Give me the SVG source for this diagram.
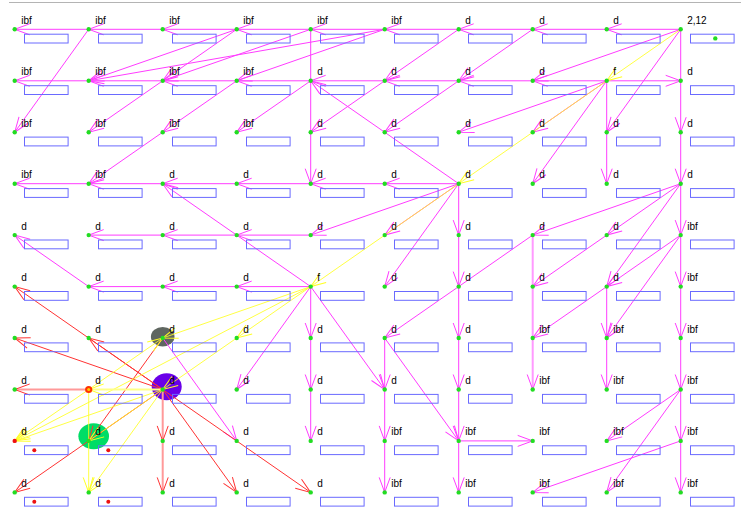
<svg xmlns="http://www.w3.org/2000/svg" width="741" height="527" viewBox="0 0 741 527">
<style>
.bx{fill:none;stroke:#6a6aff;stroke-width:1}
.dt{fill:#22dd22}
.lb{font-family:"Liberation Sans",Arial,sans-serif;font-size:10px;fill:#000}
.m{stroke:#ff3cff;stroke-width:1;fill:none;marker-end:url(#hm)}
.r{stroke:#ff3333;stroke-width:1;fill:none;marker-end:url(#hr)}
.y{stroke:#ffff22;stroke-width:1;fill:none;marker-end:url(#hy);stroke-opacity:0.85}
.mw{stroke:#ff99ff;stroke-width:2;fill:none;marker-end:url(#hm)}
.rw{stroke:#ff9999;stroke-width:2;fill:none;marker-end:url(#hr)}
.yw{stroke:#ffff88;stroke-width:2;fill:none;marker-end:url(#hy)}
</style>
<defs>
<marker id="hm" markerUnits="userSpaceOnUse" orient="auto" viewBox="-20 -10 24 20" markerWidth="24" markerHeight="20" refX="0" refY="0"><path d="M-15,-5.5L0,0L-15,5.5" fill="none" stroke="#ff3cff" stroke-width="1"/></marker>
<marker id="hr" markerUnits="userSpaceOnUse" orient="auto" viewBox="-20 -10 24 20" markerWidth="24" markerHeight="20" refX="0" refY="0"><path d="M-15,-5.5L0,0L-15,5.5" fill="none" stroke="#ff3333" stroke-width="1"/></marker>
<marker id="hy" markerUnits="userSpaceOnUse" orient="auto" viewBox="-20 -10 24 20" markerWidth="24" markerHeight="20" refX="0" refY="0"><path d="M-15,-5.5L0,0L-15,5.5" fill="none" stroke="#ffff22" stroke-width="1"/></marker>
</defs>
<rect width="741" height="527" fill="#fff"/>
<line x1="9" y1="2.5" x2="741" y2="2.5" stroke="#b4b4b4"/>
<g id="highlights">
<ellipse cx="162.7" cy="336.7" rx="11.8" ry="9.7" fill="#5f6660"/>
<ellipse cx="166.7" cy="386.7" rx="15" ry="13.5" fill="#6a00e8"/>
<ellipse cx="93.7" cy="436.3" rx="15.3" ry="13" fill="#00dd66"/>
</g>
<g id="connectors">
<line class="m" x1="680.7" y1="29.3" x2="606.7" y2="29.3"/>
<line class="m" x1="606.7" y1="29.3" x2="532.7" y2="29.3"/>
<line class="m" x1="532.7" y1="29.3" x2="458.7" y2="29.3"/>
<line class="m" x1="458.7" y1="29.3" x2="384.7" y2="29.3"/>
<line class="m" x1="384.7" y1="29.3" x2="310.7" y2="29.3"/>
<line class="m" x1="310.7" y1="29.3" x2="236.7" y2="29.3"/>
<line class="m" x1="236.7" y1="29.3" x2="162.7" y2="29.3"/>
<line class="m" x1="162.7" y1="29.3" x2="88.7" y2="29.3"/>
<line class="m" x1="88.7" y1="29.3" x2="14.7" y2="29.3"/>
<line class="m" x1="606.7" y1="80.8" x2="532.7" y2="80.8"/>
<line class="m" x1="532.7" y1="80.8" x2="458.7" y2="80.8"/>
<line class="m" x1="458.7" y1="80.8" x2="384.7" y2="80.8"/>
<line class="m" x1="384.7" y1="80.8" x2="310.7" y2="80.8"/>
<line class="m" x1="310.7" y1="80.8" x2="236.7" y2="80.8"/>
<line class="m" x1="236.7" y1="80.8" x2="162.7" y2="80.8"/>
<line class="m" x1="162.7" y1="80.8" x2="88.7" y2="80.8"/>
<line class="m" x1="88.7" y1="80.8" x2="14.7" y2="80.8"/>
<line class="m" x1="606.7" y1="80.8" x2="680.7" y2="80.8"/>
<line class="m" x1="458.7" y1="183.7" x2="384.7" y2="183.7"/>
<line class="m" x1="384.7" y1="183.7" x2="310.7" y2="183.7"/>
<line class="m" x1="310.7" y1="183.7" x2="236.7" y2="183.7"/>
<line class="m" x1="236.7" y1="183.7" x2="162.7" y2="183.7"/>
<line class="m" x1="162.7" y1="183.7" x2="88.7" y2="183.7"/>
<line class="m" x1="88.7" y1="183.7" x2="14.7" y2="183.7"/>
<line class="m" x1="310.7" y1="235.1" x2="236.7" y2="235.1"/>
<line class="m" x1="236.7" y1="235.1" x2="162.7" y2="235.1"/>
<line class="m" x1="162.7" y1="235.1" x2="88.7" y2="235.1"/>
<line class="m" x1="310.7" y1="286.6" x2="236.7" y2="286.6"/>
<line class="m" x1="236.7" y1="286.6" x2="162.7" y2="286.6"/>
<line class="m" x1="162.7" y1="286.6" x2="88.7" y2="286.6"/>
<line class="m" x1="458.7" y1="440.9" x2="532.7" y2="440.9"/>
<line class="m" x1="310.7" y1="29.3" x2="310.7" y2="183.7"/>
<line class="m" x1="310.7" y1="286.6" x2="310.7" y2="338"/>
<line class="m" x1="310.7" y1="338" x2="310.7" y2="389.5"/>
<line class="m" x1="310.7" y1="389.5" x2="310.7" y2="440.9"/>
<line class="m" x1="384.7" y1="338" x2="384.7" y2="389.5"/>
<line class="m" x1="384.7" y1="389.5" x2="384.7" y2="440.9"/>
<line class="m" x1="384.7" y1="440.9" x2="384.7" y2="492.4"/>
<line class="m" x1="458.7" y1="183.7" x2="458.7" y2="235.1"/>
<line class="m" x1="458.7" y1="235.1" x2="458.7" y2="286.6"/>
<line class="m" x1="458.7" y1="286.6" x2="458.7" y2="338"/>
<line class="m" x1="458.7" y1="338" x2="458.7" y2="389.5"/>
<line class="m" x1="458.7" y1="389.5" x2="458.7" y2="440.9"/>
<line class="m" x1="458.7" y1="440.9" x2="458.7" y2="492.4"/>
<line class="mw" x1="532.7" y1="235.1" x2="532.7" y2="389.5"/>
<line class="m" x1="606.7" y1="80.8" x2="606.7" y2="183.7"/>
<line class="m" x1="606.7" y1="286.6" x2="606.7" y2="338"/>
<line class="m" x1="606.7" y1="338" x2="606.7" y2="389.5"/>
<line class="m" x1="680.7" y1="29.3" x2="680.7" y2="132.2"/>
<line class="m" x1="680.7" y1="132.2" x2="680.7" y2="183.7"/>
<line class="m" x1="680.7" y1="183.7" x2="680.7" y2="235.1"/>
<line class="m" x1="680.7" y1="235.1" x2="680.7" y2="286.6"/>
<line class="m" x1="680.7" y1="286.6" x2="680.7" y2="338"/>
<line class="m" x1="680.7" y1="338" x2="680.7" y2="389.5"/>
<line class="m" x1="680.7" y1="389.5" x2="680.7" y2="440.9"/>
<line class="m" x1="680.7" y1="440.9" x2="680.7" y2="492.4"/>
<line class="m" x1="88.7" y1="29.3" x2="14.7" y2="132.2"/>
<line class="m" x1="236.7" y1="29.3" x2="88.7" y2="80.8"/>
<line class="m" x1="236.7" y1="29.3" x2="162.7" y2="80.8"/>
<line class="m" x1="310.7" y1="29.3" x2="162.7" y2="80.8"/>
<line class="m" x1="384.7" y1="29.3" x2="88.7" y2="80.8"/>
<line class="m" x1="384.7" y1="29.3" x2="236.7" y2="80.8"/>
<line class="m" x1="458.7" y1="29.3" x2="384.7" y2="80.8"/>
<line class="m" x1="532.7" y1="29.3" x2="458.7" y2="80.8"/>
<line class="m" x1="680.7" y1="29.3" x2="532.7" y2="80.8"/>
<line class="m" x1="680.7" y1="29.3" x2="606.7" y2="132.2"/>
<line class="m" x1="162.7" y1="80.8" x2="88.7" y2="132.2"/>
<line class="m" x1="236.7" y1="80.8" x2="162.7" y2="132.2"/>
<line class="m" x1="310.7" y1="80.8" x2="236.7" y2="132.2"/>
<line class="m" x1="384.7" y1="80.8" x2="310.7" y2="132.2"/>
<line class="m" x1="458.7" y1="80.8" x2="384.7" y2="132.2"/>
<line class="m" x1="606.7" y1="80.8" x2="458.7" y2="132.2"/>
<line class="m" x1="606.7" y1="80.8" x2="532.7" y2="132.2"/>
<line class="m" x1="606.7" y1="80.8" x2="532.7" y2="183.7"/>
<line class="m" x1="458.7" y1="183.7" x2="310.7" y2="80.8"/>
<line class="m" x1="162.7" y1="132.2" x2="88.7" y2="183.7"/>
<line class="m" x1="310.7" y1="286.6" x2="162.7" y2="183.7"/>
<line class="m" x1="458.7" y1="183.7" x2="310.7" y2="235.1"/>
<line class="m" x1="458.7" y1="183.7" x2="384.7" y2="235.1"/>
<line class="m" x1="458.7" y1="183.7" x2="384.7" y2="286.6"/>
<line class="m" x1="680.7" y1="183.7" x2="532.7" y2="235.1"/>
<line class="m" x1="680.7" y1="183.7" x2="606.7" y2="235.1"/>
<line class="m" x1="680.7" y1="183.7" x2="606.7" y2="286.6"/>
<line class="m" x1="606.7" y1="235.1" x2="532.7" y2="286.6"/>
<line class="m" x1="680.7" y1="235.1" x2="606.7" y2="286.6"/>
<line class="m" x1="680.7" y1="235.1" x2="606.7" y2="338"/>
<line class="m" x1="606.7" y1="286.6" x2="532.7" y2="338"/>
<line class="m" x1="532.7" y1="235.1" x2="384.7" y2="338"/>
<line class="m" x1="384.7" y1="338" x2="458.7" y2="440.9"/>
<line class="m" x1="310.7" y1="286.6" x2="236.7" y2="389.5"/>
<line class="m" x1="310.7" y1="286.6" x2="384.7" y2="389.5"/>
<line class="m" x1="88.7" y1="286.6" x2="14.7" y2="235.1"/>
<line class="m" x1="162.7" y1="338" x2="236.7" y2="440.9"/>
<line class="m" x1="680.7" y1="440.9" x2="532.7" y2="492.4"/>
<line class="m" x1="680.7" y1="389.5" x2="606.7" y2="440.9"/>
<line class="m" x1="680.7" y1="389.5" x2="606.7" y2="492.4"/>
<line class="r" x1="162.7" y1="389.5" x2="14.7" y2="286.6"/>
<line class="r" x1="162.7" y1="389.5" x2="14.7" y2="338"/>
<line class="r" x1="162.7" y1="389.5" x2="88.7" y2="338"/>
<line class="rw" x1="88.7" y1="389.5" x2="14.7" y2="389.5"/>
<line class="rw" x1="162.7" y1="389.5" x2="162.7" y2="440.9"/>
<line class="rw" x1="162.7" y1="440.9" x2="162.7" y2="492.4"/>
<line class="r" x1="162.7" y1="389.5" x2="236.7" y2="492.4"/>
<line class="r" x1="162.7" y1="389.5" x2="310.7" y2="492.4"/>
<line class="r" x1="162.7" y1="389.5" x2="14.7" y2="492.4"/>
<line class="r" x1="162.7" y1="338" x2="88.7" y2="440.9"/>
<line class="y" x1="680.7" y1="29.3" x2="606.7" y2="80.8"/>
<line class="y" x1="606.7" y1="80.8" x2="458.7" y2="183.7"/>
<line class="y" x1="458.7" y1="183.7" x2="310.7" y2="286.6"/>
<line class="y" x1="310.7" y1="286.6" x2="162.7" y2="338"/>
<line class="y" x1="310.7" y1="286.6" x2="236.7" y2="338"/>
<line class="y" x1="236.7" y1="338" x2="162.7" y2="389.5"/>
<line class="y" x1="310.7" y1="286.6" x2="14.7" y2="440.9"/>
<line class="y" x1="88.7" y1="389.5" x2="162.7" y2="338"/>
<line class="yw" x1="162.7" y1="389.5" x2="88.7" y2="389.5"/>
<line class="y" x1="162.7" y1="389.5" x2="14.7" y2="440.9"/>
<line class="y" x1="162.7" y1="389.5" x2="88.7" y2="440.9"/>
<line class="y" x1="162.7" y1="389.5" x2="88.7" y2="492.4"/>
<line class="y" x1="88.7" y1="389.5" x2="88.7" y2="492.4"/>
<line class="y" x1="88.7" y1="389.5" x2="14.7" y2="440.9"/>
</g>
<g id="n0-0"><rect class="bx" x="24.5" y="34.2" width="43.6" height="8.8"/><circle class="dt" cx="14.7" cy="29.3" r="2.2"/><text class="lb" x="21.2" y="23.8">ibf</text></g>
<g id="n0-1"><rect class="bx" x="98.5" y="34.2" width="43.6" height="8.8"/><circle class="dt" cx="88.7" cy="29.3" r="2.2"/><text class="lb" x="95.2" y="23.8">ibf</text></g>
<g id="n0-2"><rect class="bx" x="172.5" y="34.2" width="43.6" height="8.8"/><circle class="dt" cx="162.7" cy="29.3" r="2.2"/><text class="lb" x="169.2" y="23.8">ibf</text></g>
<g id="n0-3"><rect class="bx" x="246.5" y="34.2" width="43.6" height="8.8"/><circle class="dt" cx="236.7" cy="29.3" r="2.2"/><text class="lb" x="243.2" y="23.8">ibf</text></g>
<g id="n0-4"><rect class="bx" x="320.5" y="34.2" width="43.6" height="8.8"/><circle class="dt" cx="310.7" cy="29.3" r="2.2"/><text class="lb" x="317.2" y="23.8">ibf</text></g>
<g id="n0-5"><rect class="bx" x="394.5" y="34.2" width="43.6" height="8.8"/><circle class="dt" cx="384.7" cy="29.3" r="2.2"/><text class="lb" x="391.2" y="23.8">ibf</text></g>
<g id="n0-6"><rect class="bx" x="468.5" y="34.2" width="43.6" height="8.8"/><circle class="dt" cx="458.7" cy="29.3" r="2.2"/><text class="lb" x="465.2" y="23.8">d</text></g>
<g id="n0-7"><rect class="bx" x="542.5" y="34.2" width="43.6" height="8.8"/><circle class="dt" cx="532.7" cy="29.3" r="2.2"/><text class="lb" x="539.2" y="23.8">d</text></g>
<g id="n0-8"><rect class="bx" x="616.5" y="34.2" width="43.6" height="8.8"/><circle class="dt" cx="606.7" cy="29.3" r="2.2"/><text class="lb" x="613.2" y="23.8">d</text></g>
<g id="n0-9"><rect class="bx" x="690.5" y="34.2" width="43.6" height="8.8"/><circle class="dt" cx="680.7" cy="29.3" r="2.2"/><circle class="dt" cx="715.3" cy="38.4" r="2.2"/><text class="lb" x="687.2" y="23.8">2,12</text></g>
<g id="n1-0"><rect class="bx" x="24.5" y="85.7" width="43.6" height="8.8"/><circle class="dt" cx="14.7" cy="80.8" r="2.2"/><text class="lb" x="21.2" y="75.3">ibf</text></g>
<g id="n1-1"><rect class="bx" x="98.5" y="85.7" width="43.6" height="8.8"/><circle class="dt" cx="88.7" cy="80.8" r="2.2"/><text class="lb" x="95.2" y="75.3">ibf</text></g>
<g id="n1-2"><rect class="bx" x="172.5" y="85.7" width="43.6" height="8.8"/><circle class="dt" cx="162.7" cy="80.8" r="2.2"/><text class="lb" x="169.2" y="75.3">ibf</text></g>
<g id="n1-3"><rect class="bx" x="246.5" y="85.7" width="43.6" height="8.8"/><circle class="dt" cx="236.7" cy="80.8" r="2.2"/><text class="lb" x="243.2" y="75.3">ibf</text></g>
<g id="n1-4"><rect class="bx" x="320.5" y="85.7" width="43.6" height="8.8"/><circle class="dt" cx="310.7" cy="80.8" r="2.2"/><text class="lb" x="317.2" y="75.3">d</text></g>
<g id="n1-5"><rect class="bx" x="394.5" y="85.7" width="43.6" height="8.8"/><circle class="dt" cx="384.7" cy="80.8" r="2.2"/><text class="lb" x="391.2" y="75.3">d</text></g>
<g id="n1-6"><rect class="bx" x="468.5" y="85.7" width="43.6" height="8.8"/><circle class="dt" cx="458.7" cy="80.8" r="2.2"/><text class="lb" x="465.2" y="75.3">d</text></g>
<g id="n1-7"><rect class="bx" x="542.5" y="85.7" width="43.6" height="8.8"/><circle class="dt" cx="532.7" cy="80.8" r="2.2"/><text class="lb" x="539.2" y="75.3">d</text></g>
<g id="n1-8"><rect class="bx" x="616.5" y="85.7" width="43.6" height="8.8"/><circle class="dt" cx="606.7" cy="80.8" r="2.2"/><text class="lb" x="613.2" y="75.3">f</text></g>
<g id="n1-9"><rect class="bx" x="690.5" y="85.7" width="43.6" height="8.8"/><circle class="dt" cx="680.7" cy="80.8" r="2.2"/><text class="lb" x="687.2" y="75.3">d</text></g>
<g id="n2-0"><rect class="bx" x="24.5" y="137.1" width="43.6" height="8.8"/><circle class="dt" cx="14.7" cy="132.2" r="2.2"/><text class="lb" x="21.2" y="126.7">ibf</text></g>
<g id="n2-1"><rect class="bx" x="98.5" y="137.1" width="43.6" height="8.8"/><circle class="dt" cx="88.7" cy="132.2" r="2.2"/><text class="lb" x="95.2" y="126.7">ibf</text></g>
<g id="n2-2"><rect class="bx" x="172.5" y="137.1" width="43.6" height="8.8"/><circle class="dt" cx="162.7" cy="132.2" r="2.2"/><text class="lb" x="169.2" y="126.7">ibf</text></g>
<g id="n2-3"><rect class="bx" x="246.5" y="137.1" width="43.6" height="8.8"/><circle class="dt" cx="236.7" cy="132.2" r="2.2"/><text class="lb" x="243.2" y="126.7">ibf</text></g>
<g id="n2-4"><rect class="bx" x="320.5" y="137.1" width="43.6" height="8.8"/><circle class="dt" cx="310.7" cy="132.2" r="2.2"/><text class="lb" x="317.2" y="126.7">d</text></g>
<g id="n2-5"><rect class="bx" x="394.5" y="137.1" width="43.6" height="8.8"/><circle class="dt" cx="384.7" cy="132.2" r="2.2"/><text class="lb" x="391.2" y="126.7">d</text></g>
<g id="n2-6"><rect class="bx" x="468.5" y="137.1" width="43.6" height="8.8"/><circle class="dt" cx="458.7" cy="132.2" r="2.2"/><text class="lb" x="465.2" y="126.7">d</text></g>
<g id="n2-7"><rect class="bx" x="542.5" y="137.1" width="43.6" height="8.8"/><circle class="dt" cx="532.7" cy="132.2" r="2.2"/><text class="lb" x="539.2" y="126.7">d</text></g>
<g id="n2-8"><rect class="bx" x="616.5" y="137.1" width="43.6" height="8.8"/><circle class="dt" cx="606.7" cy="132.2" r="2.2"/><text class="lb" x="613.2" y="126.7">d</text></g>
<g id="n2-9"><rect class="bx" x="690.5" y="137.1" width="43.6" height="8.8"/><circle class="dt" cx="680.7" cy="132.2" r="2.2"/><text class="lb" x="687.2" y="126.7">d</text></g>
<g id="n3-0"><rect class="bx" x="24.5" y="188.6" width="43.6" height="8.8"/><circle class="dt" cx="14.7" cy="183.7" r="2.2"/><text class="lb" x="21.2" y="178.2">ibf</text></g>
<g id="n3-1"><rect class="bx" x="98.5" y="188.6" width="43.6" height="8.8"/><circle class="dt" cx="88.7" cy="183.7" r="2.2"/><text class="lb" x="95.2" y="178.2">ibf</text></g>
<g id="n3-2"><rect class="bx" x="172.5" y="188.6" width="43.6" height="8.8"/><circle class="dt" cx="162.7" cy="183.7" r="2.2"/><text class="lb" x="169.2" y="178.2">d</text></g>
<g id="n3-3"><rect class="bx" x="246.5" y="188.6" width="43.6" height="8.8"/><circle class="dt" cx="236.7" cy="183.7" r="2.2"/><text class="lb" x="243.2" y="178.2">d</text></g>
<g id="n3-4"><rect class="bx" x="320.5" y="188.6" width="43.6" height="8.8"/><circle class="dt" cx="310.7" cy="183.7" r="2.2"/><text class="lb" x="317.2" y="178.2">d</text></g>
<g id="n3-5"><rect class="bx" x="394.5" y="188.6" width="43.6" height="8.8"/><circle class="dt" cx="384.7" cy="183.7" r="2.2"/><text class="lb" x="391.2" y="178.2">d</text></g>
<g id="n3-6"><rect class="bx" x="468.5" y="188.6" width="43.6" height="8.8"/><circle class="dt" cx="458.7" cy="183.7" r="2.2"/><text class="lb" x="465.2" y="178.2">d</text></g>
<g id="n3-7"><rect class="bx" x="542.5" y="188.6" width="43.6" height="8.8"/><circle class="dt" cx="532.7" cy="183.7" r="2.2"/><text class="lb" x="539.2" y="178.2">d</text></g>
<g id="n3-8"><rect class="bx" x="616.5" y="188.6" width="43.6" height="8.8"/><circle class="dt" cx="606.7" cy="183.7" r="2.2"/><text class="lb" x="613.2" y="178.2">d</text></g>
<g id="n3-9"><rect class="bx" x="690.5" y="188.6" width="43.6" height="8.8"/><circle class="dt" cx="680.7" cy="183.7" r="2.2"/><text class="lb" x="687.2" y="178.2">d</text></g>
<g id="n4-0"><rect class="bx" x="24.5" y="240" width="43.6" height="8.8"/><circle class="dt" cx="14.7" cy="235.1" r="2.2"/><text class="lb" x="21.2" y="229.6">d</text></g>
<g id="n4-1"><rect class="bx" x="98.5" y="240" width="43.6" height="8.8"/><circle class="dt" cx="88.7" cy="235.1" r="2.2"/><text class="lb" x="95.2" y="229.6">d</text></g>
<g id="n4-2"><rect class="bx" x="172.5" y="240" width="43.6" height="8.8"/><circle class="dt" cx="162.7" cy="235.1" r="2.2"/><text class="lb" x="169.2" y="229.6">d</text></g>
<g id="n4-3"><rect class="bx" x="246.5" y="240" width="43.6" height="8.8"/><circle class="dt" cx="236.7" cy="235.1" r="2.2"/><text class="lb" x="243.2" y="229.6">d</text></g>
<g id="n4-4"><rect class="bx" x="320.5" y="240" width="43.6" height="8.8"/><circle class="dt" cx="310.7" cy="235.1" r="2.2"/><text class="lb" x="317.2" y="229.6">d</text></g>
<g id="n4-5"><rect class="bx" x="394.5" y="240" width="43.6" height="8.8"/><circle class="dt" cx="384.7" cy="235.1" r="2.2"/><text class="lb" x="391.2" y="229.6">d</text></g>
<g id="n4-6"><rect class="bx" x="468.5" y="240" width="43.6" height="8.8"/><circle class="dt" cx="458.7" cy="235.1" r="2.2"/><text class="lb" x="465.2" y="229.6">d</text></g>
<g id="n4-7"><rect class="bx" x="542.5" y="240" width="43.6" height="8.8"/><circle class="dt" cx="532.7" cy="235.1" r="2.2"/><text class="lb" x="539.2" y="229.6">d</text></g>
<g id="n4-8"><rect class="bx" x="616.5" y="240" width="43.6" height="8.8"/><circle class="dt" cx="606.7" cy="235.1" r="2.2"/><text class="lb" x="613.2" y="229.6">d</text></g>
<g id="n4-9"><rect class="bx" x="690.5" y="240" width="43.6" height="8.8"/><circle class="dt" cx="680.7" cy="235.1" r="2.2"/><text class="lb" x="687.2" y="229.6">ibf</text></g>
<g id="n5-0"><rect class="bx" x="24.5" y="291.5" width="43.6" height="8.8"/><circle class="dt" cx="14.7" cy="286.6" r="2.2"/><text class="lb" x="21.2" y="281.1">d</text></g>
<g id="n5-1"><rect class="bx" x="98.5" y="291.5" width="43.6" height="8.8"/><circle class="dt" cx="88.7" cy="286.6" r="2.2"/><text class="lb" x="95.2" y="281.1">d</text></g>
<g id="n5-2"><rect class="bx" x="172.5" y="291.5" width="43.6" height="8.8"/><circle class="dt" cx="162.7" cy="286.6" r="2.2"/><text class="lb" x="169.2" y="281.1">d</text></g>
<g id="n5-3"><rect class="bx" x="246.5" y="291.5" width="43.6" height="8.8"/><circle class="dt" cx="236.7" cy="286.6" r="2.2"/><text class="lb" x="243.2" y="281.1">d</text></g>
<g id="n5-4"><rect class="bx" x="320.5" y="291.5" width="43.6" height="8.8"/><circle class="dt" cx="310.7" cy="286.6" r="2.2"/><text class="lb" x="317.2" y="281.1">f</text></g>
<g id="n5-5"><rect class="bx" x="394.5" y="291.5" width="43.6" height="8.8"/><circle class="dt" cx="384.7" cy="286.6" r="2.2"/><text class="lb" x="391.2" y="281.1">d</text></g>
<g id="n5-6"><rect class="bx" x="468.5" y="291.5" width="43.6" height="8.8"/><circle class="dt" cx="458.7" cy="286.6" r="2.2"/><text class="lb" x="465.2" y="281.1">d</text></g>
<g id="n5-7"><rect class="bx" x="542.5" y="291.5" width="43.6" height="8.8"/><circle class="dt" cx="532.7" cy="286.6" r="2.2"/><text class="lb" x="539.2" y="281.1">d</text></g>
<g id="n5-8"><rect class="bx" x="616.5" y="291.5" width="43.6" height="8.8"/><circle class="dt" cx="606.7" cy="286.6" r="2.2"/><text class="lb" x="613.2" y="281.1">d</text></g>
<g id="n5-9"><rect class="bx" x="690.5" y="291.5" width="43.6" height="8.8"/><circle class="dt" cx="680.7" cy="286.6" r="2.2"/><text class="lb" x="687.2" y="281.1">ibf</text></g>
<g id="n6-0"><rect class="bx" x="24.5" y="342.9" width="43.6" height="8.8"/><circle class="dt" cx="14.7" cy="338" r="2.2"/><text class="lb" x="21.2" y="332.5">d</text></g>
<g id="n6-1"><rect class="bx" x="98.5" y="342.9" width="43.6" height="8.8"/><circle class="dt" cx="88.7" cy="338" r="2.2"/><text class="lb" x="95.2" y="332.5">d</text></g>
<g id="n6-2"><rect class="bx" x="172.5" y="342.9" width="43.6" height="8.8"/><circle class="dt" cx="162.7" cy="338" r="2.2"/><text class="lb" x="169.2" y="332.5">d</text></g>
<g id="n6-3"><rect class="bx" x="246.5" y="342.9" width="43.6" height="8.8"/><circle class="dt" cx="236.7" cy="338" r="2.2"/><text class="lb" x="243.2" y="332.5">d</text></g>
<g id="n6-4"><rect class="bx" x="320.5" y="342.9" width="43.6" height="8.8"/><circle class="dt" cx="310.7" cy="338" r="2.2"/><text class="lb" x="317.2" y="332.5">d</text></g>
<g id="n6-5"><rect class="bx" x="394.5" y="342.9" width="43.6" height="8.8"/><circle class="dt" cx="384.7" cy="338" r="2.2"/><text class="lb" x="391.2" y="332.5">d</text></g>
<g id="n6-6"><rect class="bx" x="468.5" y="342.9" width="43.6" height="8.8"/><circle class="dt" cx="458.7" cy="338" r="2.2"/><text class="lb" x="465.2" y="332.5">d</text></g>
<g id="n6-7"><rect class="bx" x="542.5" y="342.9" width="43.6" height="8.8"/><circle class="dt" cx="532.7" cy="338" r="2.2"/><text class="lb" x="539.2" y="332.5">ibf</text></g>
<g id="n6-8"><rect class="bx" x="616.5" y="342.9" width="43.6" height="8.8"/><circle class="dt" cx="606.7" cy="338" r="2.2"/><text class="lb" x="613.2" y="332.5">ibf</text></g>
<g id="n6-9"><rect class="bx" x="690.5" y="342.9" width="43.6" height="8.8"/><circle class="dt" cx="680.7" cy="338" r="2.2"/><text class="lb" x="687.2" y="332.5">ibf</text></g>
<g id="n7-0"><rect class="bx" x="24.5" y="394.4" width="43.6" height="8.8"/><circle class="dt" cx="14.7" cy="389.5" r="2.2"/><text class="lb" x="21.2" y="384">d</text></g>
<g id="n7-1"><rect class="bx" x="98.5" y="394.4" width="43.6" height="8.8"/><circle cx="88.7" cy="389.5" r="3.6" fill="#ff3300"/><circle cx="88.7" cy="389.5" r="1.5" fill="#ffcc00"/><text class="lb" x="95.2" y="384">d</text></g>
<g id="n7-2"><rect class="bx" x="172.5" y="394.4" width="43.6" height="8.8"/><circle class="dt" cx="162.7" cy="389.5" r="2.2"/><text class="lb" x="169.2" y="384">d</text></g>
<g id="n7-3"><rect class="bx" x="246.5" y="394.4" width="43.6" height="8.8"/><circle class="dt" cx="236.7" cy="389.5" r="2.2"/><text class="lb" x="243.2" y="384">d</text></g>
<g id="n7-4"><rect class="bx" x="320.5" y="394.4" width="43.6" height="8.8"/><circle class="dt" cx="310.7" cy="389.5" r="2.2"/><text class="lb" x="317.2" y="384">d</text></g>
<g id="n7-5"><rect class="bx" x="394.5" y="394.4" width="43.6" height="8.8"/><circle class="dt" cx="384.7" cy="389.5" r="2.2"/><text class="lb" x="391.2" y="384">d</text></g>
<g id="n7-6"><rect class="bx" x="468.5" y="394.4" width="43.6" height="8.8"/><circle class="dt" cx="458.7" cy="389.5" r="2.2"/><text class="lb" x="465.2" y="384">d</text></g>
<g id="n7-7"><rect class="bx" x="542.5" y="394.4" width="43.6" height="8.8"/><circle class="dt" cx="532.7" cy="389.5" r="2.2"/><text class="lb" x="539.2" y="384">ibf</text></g>
<g id="n7-8"><rect class="bx" x="616.5" y="394.4" width="43.6" height="8.8"/><circle class="dt" cx="606.7" cy="389.5" r="2.2"/><text class="lb" x="613.2" y="384">ibf</text></g>
<g id="n7-9"><rect class="bx" x="690.5" y="394.4" width="43.6" height="8.8"/><circle class="dt" cx="680.7" cy="389.5" r="2.2"/><text class="lb" x="687.2" y="384">ibf</text></g>
<g id="n8-0"><rect class="bx" x="24.5" y="445.8" width="43.6" height="8.8"/><circle cx="34.3" cy="450.2" r="2" fill="#ee1111"/><circle cx="14.7" cy="440.9" r="2.2" fill="#ee1111"/><text class="lb" x="21.2" y="435.4">d</text></g>
<g id="n8-1"><rect class="bx" x="98.5" y="445.8" width="43.6" height="8.8"/><circle cx="108.3" cy="450.2" r="2" fill="#ee1111"/><circle class="dt" cx="88.7" cy="440.9" r="2.2"/><text class="lb" x="95.2" y="435.4">d</text></g>
<g id="n8-2"><rect class="bx" x="172.5" y="445.8" width="43.6" height="8.8"/><circle class="dt" cx="162.7" cy="440.9" r="2.2"/><text class="lb" x="169.2" y="435.4">d</text></g>
<g id="n8-3"><rect class="bx" x="246.5" y="445.8" width="43.6" height="8.8"/><circle class="dt" cx="236.7" cy="440.9" r="2.2"/><text class="lb" x="243.2" y="435.4">d</text></g>
<g id="n8-4"><rect class="bx" x="320.5" y="445.8" width="43.6" height="8.8"/><circle class="dt" cx="310.7" cy="440.9" r="2.2"/><text class="lb" x="317.2" y="435.4">d</text></g>
<g id="n8-5"><rect class="bx" x="394.5" y="445.8" width="43.6" height="8.8"/><circle class="dt" cx="384.7" cy="440.9" r="2.2"/><text class="lb" x="391.2" y="435.4">ibf</text></g>
<g id="n8-6"><rect class="bx" x="468.5" y="445.8" width="43.6" height="8.8"/><circle class="dt" cx="458.7" cy="440.9" r="2.2"/><text class="lb" x="465.2" y="435.4">ibf</text></g>
<g id="n8-7"><rect class="bx" x="542.5" y="445.8" width="43.6" height="8.8"/><circle class="dt" cx="532.7" cy="440.9" r="2.2"/><text class="lb" x="539.2" y="435.4">ibf</text></g>
<g id="n8-8"><rect class="bx" x="616.5" y="445.8" width="43.6" height="8.8"/><circle class="dt" cx="606.7" cy="440.9" r="2.2"/><text class="lb" x="613.2" y="435.4">ibf</text></g>
<g id="n8-9"><rect class="bx" x="690.5" y="445.8" width="43.6" height="8.8"/><circle class="dt" cx="680.7" cy="440.9" r="2.2"/><text class="lb" x="687.2" y="435.4">ibf</text></g>
<g id="n9-0"><rect class="bx" x="24.5" y="497.3" width="43.6" height="8.8"/><circle cx="34.3" cy="501.7" r="2" fill="#ee1111"/><circle class="dt" cx="14.7" cy="492.4" r="2.2"/><text class="lb" x="21.2" y="486.9">d</text></g>
<g id="n9-1"><rect class="bx" x="98.5" y="497.3" width="43.6" height="8.8"/><circle cx="108.3" cy="501.7" r="2" fill="#ee1111"/><circle class="dt" cx="88.7" cy="492.4" r="2.2"/><text class="lb" x="95.2" y="486.9">d</text></g>
<g id="n9-2"><rect class="bx" x="172.5" y="497.3" width="43.6" height="8.8"/><circle class="dt" cx="162.7" cy="492.4" r="2.2"/><text class="lb" x="169.2" y="486.9">d</text></g>
<g id="n9-3"><rect class="bx" x="246.5" y="497.3" width="43.6" height="8.8"/><circle class="dt" cx="236.7" cy="492.4" r="2.2"/><text class="lb" x="243.2" y="486.9">d</text></g>
<g id="n9-4"><rect class="bx" x="320.5" y="497.3" width="43.6" height="8.8"/><circle class="dt" cx="310.7" cy="492.4" r="2.2"/><text class="lb" x="317.2" y="486.9">d</text></g>
<g id="n9-5"><rect class="bx" x="394.5" y="497.3" width="43.6" height="8.8"/><circle class="dt" cx="384.7" cy="492.4" r="2.2"/><text class="lb" x="391.2" y="486.9">ibf</text></g>
<g id="n9-6"><rect class="bx" x="468.5" y="497.3" width="43.6" height="8.8"/><circle class="dt" cx="458.7" cy="492.4" r="2.2"/><text class="lb" x="465.2" y="486.9">ibf</text></g>
<g id="n9-7"><rect class="bx" x="542.5" y="497.3" width="43.6" height="8.8"/><circle class="dt" cx="532.7" cy="492.4" r="2.2"/><text class="lb" x="539.2" y="486.9">ibf</text></g>
<g id="n9-8"><rect class="bx" x="616.5" y="497.3" width="43.6" height="8.8"/><circle class="dt" cx="606.7" cy="492.4" r="2.2"/><text class="lb" x="613.2" y="486.9">ibf</text></g>
<g id="n9-9"><rect class="bx" x="690.5" y="497.3" width="43.6" height="8.8"/><circle class="dt" cx="680.7" cy="492.4" r="2.2"/><text class="lb" x="687.2" y="486.9">ibf</text></g>
</svg>
